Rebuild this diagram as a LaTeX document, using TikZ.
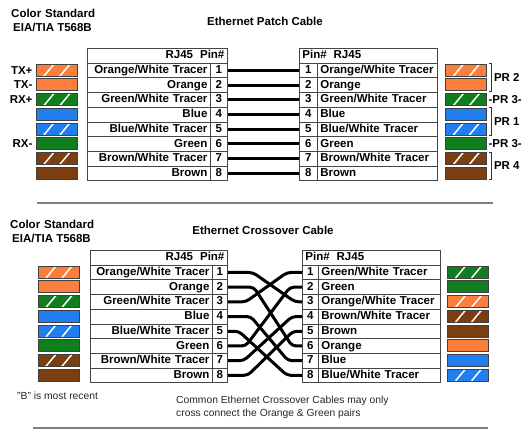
\documentclass[tikz,border=0pt]{standalone}
\usepackage{fontspec}
\setmainfont{Liberation Sans}
\definecolor{cOr}{RGB}{250,126,60}
\definecolor{cGr}{RGB}{16,125,30}
\definecolor{cBl}{RGB}{32,126,240}
\definecolor{cBr}{RGB}{122,62,16}
\definecolor{tabline}{RGB}{70,70,70}
\newcommand\tabfont{\fontsize{11.5pt}{13pt}\selectfont\bfseries}
\newcommand\notefont{\fontsize{10.3pt}{12pt}\selectfont}
\begin{document}
\begin{tikzpicture}[x=1pt,y=-1pt,
  title/.style={font=\tabfont, inner sep=0pt},
  cellbase/.style={draw=tabline, line width=0.8pt, minimum height=14.7pt, inner ysep=0pt,
    text height=8.6pt, text depth=2.4pt, font=\tabfont, anchor=north west},
  mainL/.style={cellbase, inner xsep=3pt, text width=#1, align=right},
  mainR/.style={cellbase, inner xsep=3pt, text width=#1, align=left},
  pincell/.style={cellbase, inner xsep=0pt, minimum width=#1},
  wire/.style={line width=3pt, draw=black},
  swatch/.style={draw=black!75, line width=0.7pt, fill=#1, minimum width=41pt,
    minimum height=12pt, inner sep=0pt},
  striped/.style={path picture={\draw[white, line width=1.5pt]
    ([xshift=8pt]path picture bounding box.south west) -- ([xshift=18pt]path picture bounding box.north west)
    ([xshift=24pt]path picture bounding box.south west) -- ([xshift=34pt]path picture bounding box.north west);}},
  plain/.style={},
  sepline/.style={draw=black!50, line width=1.6pt},
  lbl/.style={font=\tabfont, inner sep=0pt},
  note/.style={font=\notefont, inner sep=0pt, text=black!85},
  brk/.style={draw=black!80, line width=0.8pt}
]
\useasboundingbox (0,0) rectangle (524,429);

% ---------- top section ----------
\node[title, anchor=west] (cs1) at (11,13) {Color\hspace{4pt}Standard};
\node[title, anchor=west] (eia1) at (13,27) {EIA/TIA T568B};
\node[title] (ept) at (265,21) {Ethernet Patch Cable};

\node[mainL=134pt] (TLH) at (87,48) {RJ45\hspace{7pt}Pin\#};
\node[mainR=132pt] (TRH) at (299,48) {Pin\#\hspace{7pt}RJ45};
\foreach \txt [count=\i] in {Orange/White Tracer,Orange,Green/White Tracer,Blue,Blue/White Tracer,Green,Brown/White Tracer,Brown}{
  \node[mainL=117pt] (TLM\i) at (87,{48+14.7*\i}) {\txt};
  \node[pincell=17pt] (TLP\i) at (210,{48+14.7*\i}) {\i};
  \node[pincell=18pt] (TRP\i) at (299,{48+14.7*\i}) {\i};
  \node[mainR=114pt] (TRM\i) at (317,{48+14.7*\i}) {\txt};
  \draw[wire] (TLP\i.east) -- (TRP\i.west);
}
\foreach \c/\s [count=\i] in {cOr/striped,cOr/plain,cGr/striped,cBl/plain,cBl/striped,cGr/plain,cBr/striped,cBr/plain}{
  \node[swatch=\c,\s] (TLS\i) at (56.5,{55.35+14.7*\i}) {};
  \node[swatch=\c,\s] (TRS\i) at (466,{55.35+14.7*\i}) {};
}
\node[lbl, anchor=east, xshift=-3pt] (tx1) at (TLS1.west) {TX+};
\node[lbl, anchor=east, xshift=-3pt] (tx2) at (TLS2.west) {TX-};
\node[lbl, anchor=east, xshift=-3pt] (rx1) at (TLS3.west) {RX+};
\node[lbl, anchor=east, xshift=-3pt] (rx2) at (TLS6.west) {RX-};

\draw[brk] ([xshift=2pt]TRS1.north east) -| ([xshift=5pt]TRS2.south east) -- ([xshift=2pt]TRS2.south east);
\draw[brk] ([xshift=2pt]TRS4.north east) -| ([xshift=5pt]TRS5.south east) -- ([xshift=2pt]TRS5.south east);
\draw[brk] ([xshift=2pt]TRS7.north east) -| ([xshift=5pt]TRS8.south east) -- ([xshift=2pt]TRS8.south east);
\node[lbl, anchor=west, xshift=7pt, yshift=-1pt] (pr2) at (TRS1.south east) {PR 2};
\node[lbl, anchor=west, xshift=1.5pt] (pr3a) at (TRS3.east) {-PR 3-};
\node[lbl, anchor=west, xshift=7pt, yshift=-1pt] (pr1) at (TRS4.south east) {PR 1};
\node[lbl, anchor=west, xshift=1.5pt] (pr3b) at (TRS6.east) {-PR 3-};
\node[lbl, anchor=west, xshift=7pt, yshift=-1pt] (pr4) at (TRS7.south east) {PR 4};

\draw[sepline] (37,203) -- (493,203);

% ---------- bottom section ----------
\node[title, anchor=west] (cs2) at (10,224) {Color\hspace{4pt}Standard};
\node[title, anchor=west] (eia2) at (12,238) {EIA/TIA T568B};
\node[title] (ecc) at (263,230) {Ethernet Crossover Cable};

\node[mainL=131pt] (BLH) at (90,250) {RJ45\hspace{7pt}Pin\#};
\node[mainR=132pt] (BRH) at (302,250) {Pin\#\hspace{7pt}RJ45};
\foreach \txt [count=\i] in {Orange/White Tracer,Orange,Green/White Tracer,Blue,Blue/White Tracer,Green,Brown/White Tracer,Brown}{
  \node[mainL=116pt] (BLM\i) at (90,{250+14.7*\i}) {\txt};
  \node[pincell=15pt] (BLP\i) at (212,{250+14.7*\i}) {\i};
}
\foreach \txt [count=\i] in {Green/White Tracer,Green,Orange/White Tracer,Brown/White Tracer,Brown,Orange,Blue,Blue/White Tracer}{
  \node[pincell=16pt] (BRP\i) at (302,{250+14.7*\i}) {\i};
  \node[mainR=116pt] (BRM\i) at (318,{250+14.7*\i}) {\txt};
}
\foreach \l/\r/\a/\b in {1/3/25/7, 2/6/26/10, 3/1/18/15, 4/7/23/14, 5/8/11/15, 6/2/18/12, 7/4/16/10, 8/5/20/9}{
  \draw[wire, rounded corners=4pt] (BLP\l.east) -- ([xshift=\a]BLP\l.east) -- ([xshift=-\b]BRP\r.west) -- (BRP\r.west);
}
\foreach \c/\s [count=\i] in {cOr/striped,cOr/plain,cGr/striped,cBl/plain,cBl/striped,cGr/plain,cBr/striped,cBr/plain}{
  \node[swatch=\c,\s] (BLS\i) at (58.5,{257.35+14.7*\i}) {};
}
\foreach \c/\s [count=\i] in {cGr/striped,cGr/plain,cOr/striped,cBr/striped,cBr/plain,cOr/plain,cBl/plain,cBl/striped}{
  \node[swatch=\c,\s] (BRS\i) at (468,{257.35+14.7*\i}) {};
}

\node[note, anchor=west] (brec) at (17,396) {"B" is most recent};
\node[note, anchor=west] (note1) at (176,401) {Common Ethernet Crossover Cables may only};
\node[note, anchor=west] (note2) at (176,414) {cross connect the Orange \& Green pairs};

\draw[sepline] (33,428) -- (488,428);
\end{tikzpicture}
\end{document}
